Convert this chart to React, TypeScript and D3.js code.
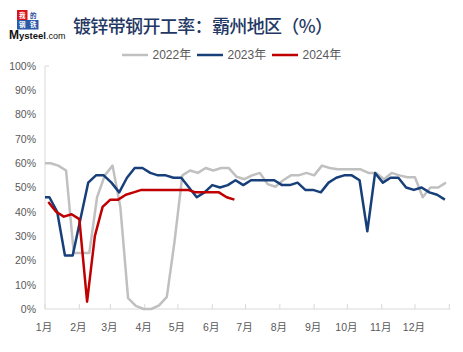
import React from 'react';
import * as d3 from 'd3';

// ---------- data ----------
const monthLabels = ['1月', '2月', '3月', '4月', '5月', '6月', '7月', '8月', '9月', '10月', '11月', '12月'];
const yTickValues = [0, 10, 20, 30, 40, 50, 60, 70, 80, 90, 100];
const seriesNames = ['2022年', '2023年', '2024年'];

const dates2022 = ['01-01', '01-06', '01-13', '01-20', '01-27', '02-03', '02-10', '02-17', '02-24', '03-03', '03-10', '03-17', '03-24', '03-31', '04-07', '04-14', '04-21', '04-28', '05-05', '05-12', '05-19', '05-26', '06-02', '06-09', '06-16', '06-23', '06-30', '07-07', '07-14', '07-21', '07-28', '08-04', '08-11', '08-18', '08-25', '09-01', '09-08', '09-15', '09-22', '09-29', '10-06', '10-13', '10-20', '10-27', '11-03', '11-10', '11-17', '11-24', '12-01', '12-08', '12-15', '12-22', '12-29'];
const values2022 = [60, 60, 59, 57, 23, 23, 23, 46, 55, 59, 42, 4.5, 1.3, 0, 0, 1.5, 5, 28, 55, 57, 56, 58, 57, 58, 58, 54.4, 53.4, 55, 56, 51.4, 50.3, 53, 55, 55, 56, 55, 59, 58, 57.5, 57.5, 57.5, 57.5, 56, 56, 53.4, 56, 55, 54.2, 54.2, 46, 50, 50, 52];

const dates2023 = ['01-01', '01-05', '01-12', '01-19', '01-26', '02-02', '02-09', '02-16', '02-23', '03-02', '03-09', '03-16', '03-23', '03-30', '04-06', '04-13', '04-20', '04-27', '05-04', '05-11', '05-18', '05-25', '06-01', '06-08', '06-15', '06-22', '06-29', '07-06', '07-13', '07-20', '07-27', '08-03', '08-10', '08-17', '08-24', '08-31', '09-07', '09-14', '09-21', '09-28', '10-05', '10-12', '10-19', '10-26', '11-02', '11-09', '11-16', '11-23', '11-30', '12-07', '12-14', '12-21', '12-28'];
const values2023 = [46, 46, 40, 22, 22, 37, 52, 55, 55, 52, 48, 54, 58, 58, 56, 55, 55, 54, 54, 50, 46, 48, 51, 50, 51, 53, 51, 53, 53, 53, 53, 51, 51, 52, 49, 49, 48, 52, 54, 55, 55, 53, 32, 56, 52, 54, 54, 50, 49, 50, 48, 47, 45];

const dates2024 = ['01-04', '01-11', '01-18', '01-25', '02-01', '02-08', '02-15', '02-22', '02-29', '03-07', '03-14', '03-21', '03-28', '04-04', '04-11', '04-18', '04-25', '05-02', '05-09', '05-16', '05-23', '05-30', '06-06', '06-13', '06-20'];
const values2024 = [44, 40, 38, 39, 37, 3, 30, 42, 45, 45, 47, 48, 49, 49, 49, 49, 49, 49, 49, 48, 48, 48, 48, 46, 45];

// ---------- layout ----------
const W = 463;
const H = 352;
const PLOT_LEFT = 45;
const PLOT_RIGHT = 449.3;
const PLOT_BOTTOM = 309;
const PLOT_TOP = 66;

const COLORS = ['#C0C0C0', '#173F7A', '#C00000'];
const AXIS_COLOR = '#D9D9D9';
const TEXT_COLOR = '#595959';
const LATIN_FONT = '"Liberation Sans", Arial, "Noto Sans CJK SC", sans-serif';

const parse = d3.timeParse('%Y-%m-%d');
const dayOfYear = (year: number, md: string) => {
  const d = parse(`${year}-${md}`) as Date;
  return d3.timeDay.count(d3.timeYear(d), d);
};

const xScale = d3.scaleLinear().domain([0, 365]).range([PLOT_LEFT, PLOT_RIGHT]);
const yScale = d3.scaleLinear().domain([0, 100]).range([PLOT_BOTTOM, PLOT_TOP]);

const monthStarts = d3.timeMonth
  .range(new Date(2023, 0, 1), new Date(2024, 0, 2))
  .map((d) => d3.timeDay.count(new Date(2023, 0, 1), d));

const series = [
  { year: 2022, dates: dates2022, values: values2022 },
  { year: 2023, dates: dates2023, values: values2023 },
  { year: 2024, dates: dates2024, values: values2024 },
];

const lineGen = d3
  .line<[number, number]>()
  .x((d) => xScale(d[0]))
  .y((d) => yScale(d[1]));

export default function App() {
  const logoFont = '"Noto Sans CJK SC", sans-serif';
  return (
    <svg
      width={W}
      height={H}
      viewBox={`0 0 ${W} ${H}`}
      style={{ position: 'absolute', left: 0, top: 0, background: '#fff' }}
    >
      <rect x={0} y={0} width={W} height={H} fill="#fff" />

      {/* Logo */}
      <g>
        <rect x={17} y={10} width={10.5} height={10} fill="#D7141A" />
        <rect x={17} y={20} width={21.5} height={9.5} fill="#2B5BA8" />
        <text x={22.2} y={17.6} fontSize={6.5} fill="#fff" textAnchor="middle" fontFamily={logoFont} fontWeight={700}>我</text>
        <text x={33.3} y={17.6} fontSize={6.5} fill="#1E4C9A" textAnchor="middle" fontFamily={logoFont} fontWeight={700}>的</text>
        <text x={22.2} y={27.4} fontSize={6.5} fill="#fff" textAnchor="middle" fontFamily={logoFont} fontWeight={700}>钢</text>
        <text x={33.3} y={27.4} fontSize={6.5} fill="#fff" textAnchor="middle" fontFamily={logoFont} fontWeight={700}>铁</text>
        <text x={9} y={38.8} fontFamily={LATIN_FONT} fill="#111">
          <tspan fontSize={12} fontWeight={700}>M</tspan>
          <tspan fontSize={9.5} fontWeight={700}>ysteel</tspan>
          <tspan fontSize={9} fontWeight={400}>.com</tspan>
        </text>
      </g>

      {/* Title */}
      <text
        x={73}
        y={33}
        fontSize={18}
        fill="#1F3864"
        fontFamily='"Noto Sans CJK SC", sans-serif'
        fontWeight={500}
        textLength={260}
        lengthAdjust="spacing"
      >
        镀锌带钢开工率：霸州地区（%）
      </text>

      {/* Legend */}
      {seriesNames.map((name, i) => {
        const lx = 122 + i * 75;
        return (
          <g key={name}>
            <line x1={lx} x2={lx + 26} y1={55} y2={55} stroke={COLORS[i]} strokeWidth={2.5} />
            <text x={lx + 30.5} y={59.3} fontSize={12} fill={TEXT_COLOR} fontFamily={LATIN_FONT}>
              {name}
            </text>
          </g>
        );
      })}

      {/* Axes */}
      <line x1={PLOT_LEFT} x2={PLOT_LEFT} y1={PLOT_TOP} y2={PLOT_BOTTOM} stroke={AXIS_COLOR} strokeWidth={1} />
      <line x1={PLOT_LEFT} x2={PLOT_LEFT + 4} y1={PLOT_TOP} y2={PLOT_TOP} stroke={AXIS_COLOR} strokeWidth={1} />
      <line x1={PLOT_LEFT} x2={PLOT_RIGHT + 1} y1={PLOT_BOTTOM} y2={PLOT_BOTTOM} stroke={AXIS_COLOR} strokeWidth={1} />
      {monthStarts.map((d, i) => (
        <line
          key={i}
          x1={xScale(d)}
          x2={xScale(d)}
          y1={PLOT_BOTTOM}
          y2={PLOT_BOTTOM - 5}
          stroke={AXIS_COLOR}
          strokeWidth={1}
        />
      ))}

      {/* Y tick labels */}
      {yTickValues.map((v) => (
        <text
          key={v}
          x={36}
          y={yScale(v) + 3.8}
          fontSize={10.5}
          fill={TEXT_COLOR}
          textAnchor="end"
          fontFamily={LATIN_FONT}
        >
          {`${v}%`}
        </text>
      ))}

      {/* X tick labels */}
      {monthLabels.map((m, i) => (
        <text
          key={m}
          x={xScale(monthStarts[i]) - 1}
          y={331}
          fontSize={10.5}
          fill={TEXT_COLOR}
          textAnchor="middle"
          fontFamily={LATIN_FONT}
        >
          {m}
        </text>
      ))}

      {/* Lines */}
      {series.map((s, i) => {
        const pts: [number, number][] = s.dates.map((md, j) => [dayOfYear(s.year, md), s.values[j]]);
        return (
          <path
            key={s.year}
            d={lineGen(pts) || ''}
            fill="none"
            stroke={COLORS[i]}
            strokeWidth={2.5}
            strokeLinejoin="round"
          />
        );
      })}
    </svg>
  );
}
